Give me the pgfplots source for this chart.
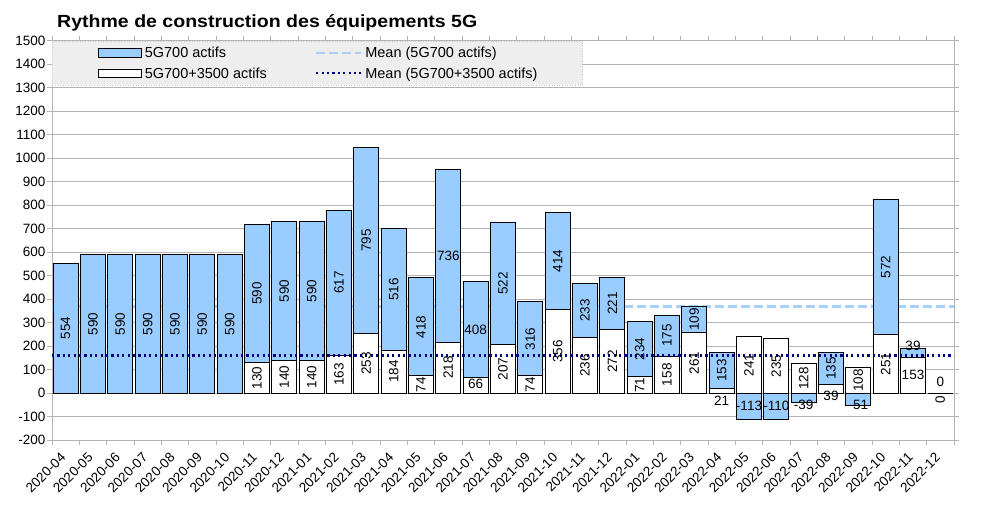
\documentclass[border=0pt]{standalone}
\usepackage{pgfplots}
\pgfplotsset{compat=1.18}
\usepackage{pgfplotstable}
\usepackage{fontspec}
\setmainfont{Liberation Sans}
\newfontfamily\titlefont{Liberation Sans}[FakeStretch=1.11]
\definecolor{barblue}{HTML}{99CCFF}
\definecolor{meanblue}{HTML}{A6D1FA}
\definecolor{navy}{HTML}{000080}
\definecolor{gridgray}{HTML}{B3B3B3}
\definecolor{leggray}{HTML}{EEEEEE}

% x index, w = 5G700+3500 actifs, b = 5G700 actifs
\pgfplotstableread{
x w b
0 0 554
1 0 590
2 0 590
3 0 590
4 0 590
5 0 590
6 0 590
7 130 590
8 140 590
9 140 590
10 163 617
11 253 795
12 184 516
13 74 418
14 218 736
15 66 408
16 207 522
17 74 316
18 356 414
19 236 233
20 272 221
21 71 234
22 158 175
23 261 109
24 21 153
25 241 -113
26 235 -110
27 128 -39
28 39 135
29 108 -51
30 251 572
31 153 39
32 0 0
}\data

% rotated labels: x, y position, text
\pgfplotstableread{
x y l
0 277 554
1 295 590
2 295 590
3 295 590
4 295 590
5 295 590
6 295 590
7 425 590
8 435 590
9 435 590
10 471 617
11 650 795
12 442 516
13 283 418
16 468 522
17 232 316
18 563 414
19 352 233
20 382 221
21 188 234
22 245 175
23 315 109
24 97 153
28 106 135
30 537 572
7 65 130
8 70 140
9 70 140
10 81 163
11 126 253
12 92 184
13 37 74
14 109 218
16 103 207
17 37 74
18 178 356
19 118 236
20 136 272
21 35 71
22 79 158
23 130 261
25 120 241
26 117 235
27 64 128
29 54 108
30 125 251
32 -26 0
}\rotlabels

% horizontal labels
\pgfplotstableread{
x y l
14 586 736
15 270 408
15 40 66
24 -33 21
25 -52 -113
26 -52 -110
27 -50 -39
28 -12 39
29 -51 -51
31 200 39
31 78 153
32 48 0
}\horlabels

\begin{document}
\begin{tikzpicture}
\path[use as bounding box] (0pt,0pt) rectangle (985pt,-507pt);
\node[anchor=base west, inner sep=0pt, font=\titlefont\bfseries\fontsize{17.6}{20}\selectfont] at (57pt,-27.3pt) {Rythme de construction des équipements 5G};
\begin{axis}[
  at={(52pt,-440.3pt)}, anchor=south west,
  scale only axis, width=902pt, height=399.5pt,
  xmin=-0.5, xmax=32.5, ymin=-200, ymax=1500,
  ybar, bar width=25pt, bar shift=0pt,
  ytick={-200,-100,...,1500},
  ymajorgrids, grid style={draw=gridgray, line width=0.8pt},
  axis line style={draw=gridgray, line width=0.8pt},
  tick style={draw=gridgray, line width=0.8pt},
  tick align=outside, major tick length=5pt, minor tick length=5pt,
  xtick={0,...,32},
  major x tick style={draw=none},
  minor xtick={-0.5,0.5,...,32.5},
  xticklabels={2020-04,2020-05,2020-06,2020-07,2020-08,2020-09,2020-10,2020-11,2020-12,2021-01,2021-02,2021-03,2021-04,2021-05,2021-06,2021-07,2021-08,2021-09,2021-10,2021-11,2021-12,2022-01,2022-02,2022-03,2022-04,2022-05,2022-06,2022-07,2022-08,2022-09,2022-10,2022-11,2022-12},
  tick label style={font=\fontsize{13.5}{15}\selectfont},
  x tick label style={xshift=-6pt, yshift=-5pt, rotate=45, anchor=north east, inner sep=1pt},
  y tick label style={inner xsep=1.5pt},
  /pgf/number format/assume math mode=true,
  /pgf/number format/1000 sep={},
  legend columns=2,
  legend cell align=left,
  legend style={at={(0,1)}, anchor=north west, fill=leggray, draw=gray!40, dotted, line width=0.6pt,
    inner xsep=45.2pt, inner ysep=4.7pt, row sep=6.5pt,
    font=\fontsize{14.5}{16}\selectfont,
    nodes={inner xsep=0pt, inner ysep=0pt, text height=12pt, text depth=2pt, solid},
    /tikz/every odd column/.append style={column sep=3pt},
    /tikz/every even column/.append style={column sep=48pt}},
]
% mean of 5G700 actifs (behind bars)
\addplot[sharp plot, forget plot, meanblue, line width=2.4pt, dash pattern=on 9pt off 4pt] coordinates {(-0.5,368.6) (32.5,368.6)};
% blue bars: top of the stack (or the negative value itself)
\addplot[forget plot, fill=barblue, draw=black, line width=0.9pt]
  table[x=x, y expr={\thisrow{b}<0 ? \thisrow{b} : \thisrow{w}+\thisrow{b}}] {\data};
% white bars
\addplot[forget plot, fill=white, draw=black, line width=0.9pt] table[x=x, y=w] {\data};
% mean of 5G700+3500 actifs
\addplot[sharp plot, forget plot, navy, line width=2.2pt, dash pattern=on 2.2pt off 3.2pt] coordinates {(-0.5,160.7) (32.5,160.7)};
% labels
\addplot[sharp plot, forget plot, draw=none, mark=none, point meta=explicit symbolic,
  nodes near coords, every node near coord/.style={anchor=center, rotate=90, font=\fontsize{13.5}{15}\selectfont, inner sep=0pt}]
  table[x=x, y=y, meta=l] {\rotlabels};
\addplot[sharp plot, forget plot, draw=none, mark=none, point meta=explicit symbolic,
  nodes near coords, every node near coord/.style={anchor=center, font=\fontsize{13.5}{15}\selectfont, inner sep=0pt}]
  table[x=x, y=y, meta=l] {\horlabels};
% legend
\addlegendimage{legend image code/.code={\draw[fill=barblue, draw=black, line width=0.9pt, solid] (0pt,-4.2pt) rectangle (43.4pt,4.2pt);}}
\addlegendentry{5G700 actifs}
\addlegendimage{legend image code/.code={\draw[meanblue, line width=2.4pt, dash pattern=on 9pt off 4pt] (0pt,0pt) -- (45pt,0pt);}}
\addlegendentry{Mean (5G700 actifs)}
\addlegendimage{legend image code/.code={\draw[fill=white, draw=black, line width=0.9pt, solid] (0pt,-4.2pt) rectangle (43.4pt,4.2pt);}}
\addlegendentry{5G700+3500 actifs}
\addlegendimage{legend image code/.code={\draw[navy, line width=2.2pt, dash pattern=on 2.2pt off 3.2pt] (0pt,0pt) -- (45pt,0pt);}}
\addlegendentry{Mean (5G700+3500 actifs)}
\end{axis}
\end{tikzpicture}
\end{document}
